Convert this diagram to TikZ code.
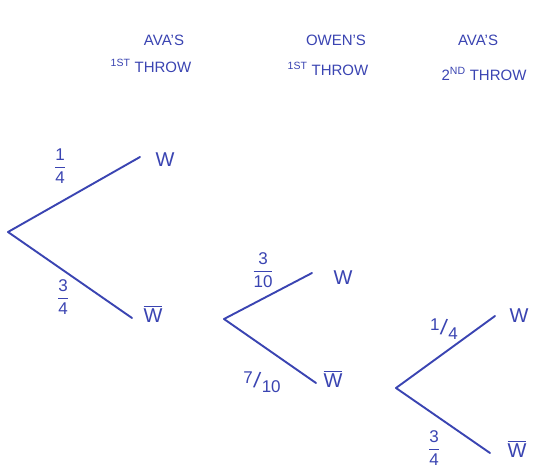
\documentclass[tikz,border=0pt]{standalone}
\usepackage{amsmath}
\usepackage{fontspec}
\setmainfont{Liberation Sans}
\definecolor{pen}{RGB}{58,68,178}
\tikzset{
  branch/.style={draw=pen, line width=1.9pt, line cap=round},
  lbl/.style={text=pen, inner sep=1pt, font=\fontsize{20}{22}\selectfont},
  hdr/.style={text=pen, inner sep=1pt, font=\fontsize{15}{17}\selectfont},
  frc/.style={text=pen, inner sep=1pt, font=\fontsize{17}{19}\selectfont},
}
\newcommand{\stfrac}[2]{$\dfrac{\text{#1}}{\text{#2}}$}
\newcommand{\slfrac}[2]{\raisebox{0.5ex}{#1}\kern0.02em\rotatebox{-8}{\fontsize{22}{24}\selectfont /}\kern0.02em\raisebox{-0.5ex}{#2}}
\newcommand{\wbar}{$\overline{\text{W}}$}
\begin{document}
\begin{tikzpicture}[x=1pt,y=-1pt]
\useasboundingbox (0,0) rectangle (554,468);
\fill[white] (0,0) rectangle (554,468);
% headers
\node[hdr] (h1a) at (164,40) {AVA'S};
\node[hdr] (h1b) at (151,66) {\textsuperscript{1ST}\ THROW};
\node[hdr] (h2a) at (336,40) {OWEN'S};
\node[hdr] (h2b) at (328,69) {\textsuperscript{1ST}\ THROW};
\node[hdr] (h3a) at (478,40) {AVA'S};
\node[hdr] (h3b) at (484,74) {2\textsuperscript{ND}\ THROW};
% tree 1
\coordinate (r1) at (8,232);
\node[lbl] (w1) at (165,160) {W};
\node[lbl] (nw1) at (153,314) {\wbar};
\draw[branch] (r1) -- (140,157);
\draw[branch] (r1) -- (132,318);
\node[frc] (f1u) at (60,166) {\stfrac{1}{4}};
\node[frc] (f1d) at (63,297) {\stfrac{3}{4}};
% tree 2
\coordinate (r2) at (224,319);
\node[lbl] (w2) at (343,278) {W};
\node[lbl] (nw2) at (333,379) {\wbar};
\draw[branch] (r2) -- (312,273);
\draw[branch] (r2) -- (316,383);
\node[frc] (f2u) at (263,270) {\stfrac{3}{10}};
\node[frc] (f2d) at (262,382) {\slfrac{7}{10}};
% tree 3
\coordinate (r3) at (396,388);
\node[lbl] (w3) at (519,316) {W};
\node[lbl] (nw3) at (517,449) {\wbar};
\draw[branch] (r3) -- (495,316);
\draw[branch] (r3) -- (490,453);
\node[frc] (f3u) at (444,329) {\slfrac{1}{4}};
\node[frc] (f3d) at (434,448) {\stfrac{3}{4}};
\end{tikzpicture}
\end{document}
